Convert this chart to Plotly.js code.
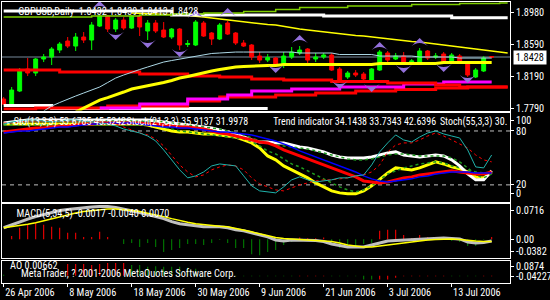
<!DOCTYPE html>
<html>
<head>
<meta charset="utf-8">
<script src="https://cdn.plot.ly/plotly-3.0.1.min.js"></script>
<style>html,body{margin:0;padding:0;background:#000;}#chart{width:550px;height:300px;}
#chart text{font-stretch:condensed !important;}</style>
</head>
<body>
<div id="chart"></div>
<script>
// ---------- DATA ----------
const symbolTitle = "GBPUSD,Daily";
const tickIdx = [0, 8, 16, 24, 32, 40, 48, 56];
const tickText = ["26 Apr 2006", "8 May 2006", "18 May 2006", "30 May 2006", "9 Jun 2006", "21 Jun 2006", "3 Jul 2006", "13 Jul 2006"];

const open = [1.7903,1.7828,1.8003,1.8278,1.8228,1.8403,1.8428,1.8515,1.8628,1.8565,
1.8678,1.8640,1.8815,1.8940,1.8778,1.8890,1.8790,1.8940,1.8753,1.8853,
1.8765,1.8678,1.8778,1.8584,1.8578,1.8853,1.8728,1.8653,1.8853,1.8728,
1.8603,1.8578,1.8440,1.8390,1.8415,1.8328,1.8428,1.8478,1.8528,1.8403,
1.8428,1.8453,1.8278,1.8178,1.8228,1.8215,1.8140,1.8265,1.8478,1.8403,
1.8440,1.8365,1.8365,1.8503,1.8428,1.8465,1.8365,1.8440,1.8353,1.8178,
1.8253,1.8432];
const high = [1.7928,1.8053,1.8290,1.8415,1.8415,1.8465,1.8553,1.8615,1.8678,1.8728,
1.8740,1.8865,1.8953,1.8953,1.8915,1.8928,1.8953,1.8953,1.8890,1.8890,
1.8865,1.8790,1.8790,1.8640,1.8890,1.8878,1.8740,1.8853,1.8878,1.8740,
1.8640,1.8590,1.8490,1.8465,1.8428,1.8490,1.8553,1.8565,1.8540,1.8478,
1.8478,1.8478,1.8303,1.8253,1.8265,1.8240,1.8290,1.8515,1.8503,1.8478,
1.8490,1.8403,1.8540,1.8515,1.8478,1.8490,1.8478,1.8465,1.8365,1.8290,
1.8440,1.8439];
const low = [1.7828,1.7815,1.7990,1.8190,1.8190,1.8365,1.8328,1.8478,1.8540,1.8503,
1.8603,1.8515,1.8803,1.8740,1.8740,1.8765,1.8778,1.8690,1.8640,1.8728,
1.8665,1.8653,1.8515,1.8553,1.8565,1.8678,1.8578,1.8640,1.8703,1.8578,
1.8553,1.8390,1.8353,1.8365,1.8303,1.8290,1.8403,1.8453,1.8353,1.8365,
1.8403,1.8253,1.8115,1.8153,1.8178,1.8115,1.8128,1.8253,1.8365,1.8390,
1.8340,1.8340,1.8353,1.8390,1.8403,1.8340,1.8353,1.8365,1.8178,1.8165,
1.8240,1.8413];
const close = [1.7840,1.8015,1.8253,1.8228,1.8403,1.8428,1.8528,1.8590,1.8565,1.8678,
1.8640,1.8828,1.8940,1.8778,1.8890,1.8790,1.8940,1.8803,1.8853,1.8753,
1.8678,1.8778,1.8578,1.8597,1.8865,1.8690,1.8653,1.8828,1.8715,1.8603,
1.8565,1.8428,1.8390,1.8422,1.8328,1.8440,1.8490,1.8515,1.8390,1.8428,
1.8453,1.8265,1.8140,1.8228,1.8203,1.8153,1.8278,1.8490,1.8390,1.8440,
1.8353,1.8378,1.8503,1.8415,1.8440,1.8365,1.8453,1.8378,1.8203,1.8265,
1.8415,1.8428];

// main-panel indicator lines (last two values of some lines extend past the last bar)
const greenTop = [1.8928,1.8928,1.8928,1.8928,1.8928,1.8928,1.8928,1.8928,1.8928,1.8928,
1.8928,1.8940,1.8940,1.8940,1.8940,1.8940,1.8940,1.8953,1.8953,1.8953,
1.8953,1.8965,1.8965,1.8965,1.8965,1.8978,1.8978,1.8978,1.8978,1.8978,
1.8997,1.8997,1.8997,1.8997,1.9022,1.9022,1.9022,1.9047,1.9047,1.9047,
1.9047,1.9047,1.9047,1.9066,1.9066,1.9066,1.9066,1.9066,1.9066,1.9066,
1.9066,1.9084,1.9084,1.9084,1.9084,1.9084,1.9084,1.9097,1.9097,1.9097,
1.9097,1.9097,1.9103,1.9103];
const whiteTop = [1.9003,1.9003,1.9003,1.9003,1.9003,1.9003,1.9003,1.9003,1.9003,1.9003,
1.9003,1.9003,1.9003,1.9003,1.9003,1.9003,1.9003,1.9003,1.9003,1.9003,
1.9003,1.8953,1.8953,1.8953,1.8953,1.8953,1.8953,1.8953,1.8953,1.8953,
1.8953,1.8953,1.8953,1.8953,1.8953,1.8953,1.8953,1.8953,1.8953,1.8953,
1.8940,1.8940,1.8940,1.8940,1.8940,1.8940,1.8940,1.8940,1.8940,1.8940,
1.8940,1.8940,1.8940,1.8940,1.8940,1.8940,1.8919,1.8919,1.8919,1.8919,
1.8919,1.8919,1.8919,1.8919];
const yellowTrend = [null,null,null,null,null,null,null,null,null,null,
null,null,null,null,null,null,1.8978,1.8975,1.8971,1.8969,
1.8965,1.8959,1.8953,1.8946,1.8940,1.8928,1.8915,1.8903,1.8890,1.8878,
1.8865,1.8853,1.8844,1.8834,1.8828,1.8809,1.8790,1.8778,1.8765,1.8753,
1.8740,1.8728,1.8715,1.8703,1.8696,1.8690,1.8678,1.8665,1.8653,1.8640,
1.8634,1.8621,1.8615,1.8603,1.8590,1.8578,1.8565,1.8553,1.8540,1.8528,
1.8515,1.8503,1.8490,1.8478];
const lightBlue = [null,null,null,null,null,1.7753,1.7815,1.7859,1.7903,1.7940,
1.7978,1.8015,1.8053,1.8109,1.8165,1.8203,1.8240,1.8271,1.8303,1.8334,
1.8365,1.8384,1.8403,1.8422,1.8440,1.8453,1.8472,1.8478,1.8487,1.8490,
1.8490,1.8490,1.8490,1.8490,1.8490,1.8490,1.8490,1.8478,1.8478,1.8478,
1.8478,1.8478,1.8459,1.8459,1.8459,1.8459,1.8459,1.8440,1.8440,1.8440,
1.8440,1.8440,1.8428,1.8428,1.8428,1.8428,1.8428,1.8415,1.8415,1.8415,
1.8415,1.8415];
const yellowMA = [null,null,null,null,null,null,null,null,null,1.7740,
1.7790,1.7840,1.7890,1.7921,1.7953,1.7990,1.8028,1.8046,1.8071,1.8090,
1.8109,1.8134,1.8165,1.8184,1.8209,1.8234,1.8253,1.8271,1.8290,1.8303,
1.8309,1.8315,1.8321,1.8321,1.8321,1.8334,1.8334,1.8334,1.8334,1.8334,
1.8334,1.8334,1.8334,1.8334,1.8334,1.8334,1.8334,1.8346,1.8346,1.8346,
1.8346,1.8346,1.8346,1.8346,1.8346,1.8359,1.8359,1.8359,1.8359,1.8359,
1.8359,1.8359];
const redUpper = [1.8265,1.8265,1.8265,1.8265,1.8265,1.8265,1.8265,1.8240,1.8240,1.8240,
1.8240,1.8240,1.8240,1.8240,1.8240,1.8240,1.8240,1.8215,1.8215,1.8215,
1.8215,1.8215,1.8215,1.8190,1.8190,1.8190,1.8190,1.8178,1.8178,1.8178,
1.8178,1.8153,1.8153,1.8153,1.8153,1.8140,1.8140,1.8140,1.8140,1.8140,
1.8140,1.8121,1.8121,1.8121,1.8121,1.8121,1.8121,1.8121,1.8103,1.8103,
1.8103,1.8103,1.8103,1.8103,1.8078,1.8078,1.8078,1.8053,1.8053,1.8053,
1.8053,1.8053,1.8053,1.8053];
const redLower = [1.7778,1.7778,1.7778,1.7778,1.7790,1.7790,1.7790,1.7790,1.7790,1.7790,
1.7790,1.7790,1.7790,1.7815,1.7815,1.7815,1.7815,1.7815,1.7815,1.7815,
1.7815,1.7815,1.7815,1.7878,1.7878,1.7878,1.7878,1.7928,1.7928,1.7928,
1.7928,1.7928,1.7928,1.7928,1.7953,1.7953,1.7953,1.7953,1.7953,1.7978,
1.7978,1.7978,1.7978,1.7978,1.8003,1.8003,1.8003,1.8003,1.8003,1.8021,
1.8021,1.8021,1.8021,1.8021,1.8040,1.8040,1.8040,1.8040,1.8053,1.8053,
1.8053,1.8053,1.8053,1.8053];
const magenta = [null,null,null,null,null,null,null,null,null,null,
null,null,1.7790,1.7790,1.7790,1.7790,1.7790,1.7840,1.7840,1.7840,
1.7840,1.7840,1.7840,1.7903,1.7903,1.7903,1.7903,1.7903,1.7953,1.7953,
1.7953,1.8003,1.8003,1.8003,1.8003,1.8003,1.8028,1.8028,1.8028,1.8028,
1.8028,1.8028,1.8053,1.8053,1.8053,1.8053,1.8053,1.8053,1.8053,1.8053,
1.8090,1.8090,1.8090,1.8090,1.8090,1.8115,1.8115,1.8115,1.8115,1.8115,
1.8115,1.8115];
const whiteBottom = [1.7822,1.7822,1.7822,1.7822,1.7822,1.7822,1.7784,1.7784,1.7784,1.7784,
1.7784,1.7784,1.7784,1.7784,1.7784,1.7784,1.7784,1.7784,1.7784,1.7784,
1.7784,1.7784,1.7784,1.7784,1.7784,1.7784,1.7784,1.7784,1.7784,1.7784,
1.7784,1.7784,1.7784,1.7784,null,null,null,null,null,null,
null,null,null,null,null,null,null,null,null,null,
null,null,null,null,null,null,null,null,null,null,
null,null];

// fractal arrows
const upFractIdx = [12, 24, 28, 37, 47, 52];
const upFractPrice = [1.9128, 1.9015, 1.9040, 1.8703, 1.8615, 1.8665];
const downFractIdx = [14, 18, 22, 34, 42, 46, 50, 55, 58];
const downFractPrice = [1.8640, 1.8540, 1.8428, 1.8228, 1.8028, 1.7990, 1.8228, 1.8240, 1.8103];

// stochastic panel
const stoch13Main = [87.8,90.0,91.1,92.2,92.2,91.1,90.0,91.1,92.2,92.2,
91.1,90.0,88.9,87.8,85.6,82.2,80.0,77.8,74.4,68.9,
58.9,47.8,36.7,27.8,30.0,34.4,41.1,43.3,42.2,41.1,
30.0,18.9,13.3,12.2,11.1,17.8,25.6,28.9,25.6,23.3,
24.4,25.6,27.8,27.8,30.0,31.1,42.2,56.7,66.7,75.6,
70.0,67.8,73.3,77.8,80.0,76.7,74.4,72.2,58.9,40.0,
38.9,53.3];
const stoch13Signal = [88.9,88.9,90.0,91.1,91.1,91.1,91.1,91.1,91.1,91.1,
91.1,91.1,90.0,88.9,87.8,84.4,81.1,77.8,75.6,71.1,
63.3,52.2,42.2,34.4,28.9,31.1,36.7,40.0,42.2,41.1,
36.7,27.8,21.1,17.8,14.4,13.3,16.7,20.0,22.2,24.4,
25.6,25.6,26.7,27.8,30.0,31.1,34.4,42.2,56.7,64.4,
66.7,66.7,70.0,74.4,77.8,74.4,70.0,65.6,61.1,53.3,
47.8,45.6];
const stoch21Main = [88.9,90.0,91.1,92.2,92.2,92.2,92.2,92.2,92.2,92.2,
92.2,92.2,92.2,92.2,92.2,92.2,92.2,92.2,92.2,91.1,
90.0,88.9,87.8,86.7,85.6,84.4,83.3,81.1,78.9,76.7,
73.3,70.0,67.8,67.8,66.7,66.7,64.4,62.2,61.1,58.9,
56.7,53.3,51.1,50.0,50.0,50.0,51.1,53.3,55.6,56.7,
53.3,52.2,51.1,52.2,53.3,52.2,47.8,41.1,32.2,25.6,
25.6,35.6];
const stoch21Signal = [87.8,88.9,90.0,91.1,91.1,91.1,91.1,91.1,91.1,91.1,
91.1,91.1,91.1,91.1,91.1,91.1,91.1,91.1,91.1,91.1,
90.0,88.9,87.8,86.7,85.6,84.4,83.3,82.2,80.0,77.8,
75.6,72.2,68.9,66.7,64.4,63.3,62.2,61.1,60.0,57.8,
55.6,53.3,51.1,48.9,47.8,47.8,48.9,51.1,53.3,54.4,
54.4,53.3,52.2,52.2,52.2,52.2,50.0,45.6,38.9,31.1,
27.8,32.2];
const trendRed = [78.9,80.0,81.1,82.2,83.3,83.3,84.4,85.6,85.6,86.7,
87.8,87.8,88.9,88.9,88.9,88.9,88.9,88.9,87.8,87.8,
86.7,85.6,84.4,84.4,83.3,82.2,80.0,77.8,76.7,74.4,
72.2,70.0,67.8,66.7,63.3,58.9,55.6,52.2,48.9,45.6,
42.2,38.9,35.6,32.2,28.9,24.4,23.3,22.2,23.3,25.6,
27.8,28.9,31.1,32.2,33.3,34.4,35.6,34.4,33.3,32.2,
32.2,34.4];
const trendBlue = [77.8,78.9,80.0,80.0,81.1,82.2,83.3,84.4,84.4,85.6,
86.7,87.8,87.8,88.9,88.9,88.9,88.9,87.8,86.7,85.6,
84.4,84.4,83.3,83.3,82.2,81.1,80.0,78.9,78.9,77.8,
76.7,75.6,73.3,71.1,68.9,65.6,62.2,57.8,54.4,51.1,
47.8,44.4,41.1,37.8,34.4,30.0,26.7,24.4,23.3,24.4,
25.6,26.7,28.9,30.0,32.2,33.3,34.4,34.4,34.4,33.3,
33.3,33.3];
const stoch55Main = [87.8,87.8,87.8,87.8,87.8,87.8,87.8,87.8,87.8,87.8,
87.8,87.8,87.8,87.8,87.8,87.8,87.8,87.8,86.7,84.4,
82.2,80.0,78.9,78.9,77.8,76.7,76.7,75.6,74.4,73.3,
70.0,66.7,61.1,52.2,47.8,41.1,36.7,32.2,27.8,22.2,
17.8,13.3,11.1,10.0,10.0,13.3,18.9,25.6,33.3,38.9,
37.8,36.7,38.9,42.2,45.6,43.3,40.0,37.8,34.4,28.9,
27.8,34.4];
const stoch55Signal = [86.7,86.7,86.7,86.7,86.7,86.7,86.7,86.7,86.7,86.7,
86.7,86.7,86.7,86.7,86.7,86.7,86.7,86.7,86.7,86.7,
84.4,82.2,80.0,78.9,77.8,76.7,75.6,74.4,73.3,72.2,
71.1,67.8,63.3,57.8,54.4,48.9,43.3,40.0,35.6,31.1,
26.7,22.2,17.8,14.4,12.2,14.4,18.9,25.6,32.2,35.6,
38.9,41.1,43.3,44.4,45.6,44.4,41.1,38.9,36.7,34.4,
33.3,32.2];
const stochLevels = [80, 20];

// MACD panel
const macdHist = [0,0.0067,0.0230,0.0291,0.0331,0.0291,0.0250,0.0230,0.0128,0.0128,
0.0047,0.0047,0.0148,0.0047,0,-0.0096,-0.0075,-0.0157,-0.0075,-0.0157,
-0.0258,-0.0218,-0.0177,-0.0096,-0.0096,-0.0116,-0.0075,-0.0014,-0.0075,-0.0177,
-0.0177,-0.0299,-0.0319,-0.0258,-0.0218,-0.0116,-0.0055,0.0033,0.0020,0.0020,
0.0037,-0.0075,-0.0177,-0.0157,-0.0157,-0.0096,-0.0075,0.0169,0.0189,0.0189,
0.0087,0.0026,0.0087,0.0047,0.0047,0.0020,-0.0035,-0.0055,-0.0136,-0.0136,
-0.0010,0.0047];
const macdMain = [0.0230,0.0291,0.0352,0.0403,0.0453,0.0494,0.0535,0.0575,0.0596,0.0616,
0.0636,0.0646,0.0657,0.0657,0.0636,0.0606,0.0575,0.0535,0.0494,0.0453,
0.0413,0.0352,0.0311,0.0291,0.0270,0.0250,0.0250,0.0250,0.0230,0.0189,
0.0169,0.0128,0.0087,0.0047,-0.0014,-0.0035,-0.0014,-0.0014,-0.0014,-0.0024,
-0.0045,-0.0096,-0.0126,-0.0157,-0.0157,-0.0157,-0.0116,-0.0075,-0.0035,-0.0024,
-0.0014,-0.0004,0.0006,0.0016,0.0026,0.0026,0.0016,0.0006,-0.0055,-0.0075,
-0.0065,-0.0035];
const macdSignal = [0.0230,0.0250,0.0270,0.0301,0.0331,0.0372,0.0413,0.0453,0.0494,0.0525,
0.0555,0.0575,0.0596,0.0606,0.0606,0.0596,0.0575,0.0555,0.0525,0.0494,
0.0453,0.0413,0.0372,0.0342,0.0311,0.0291,0.0270,0.0260,0.0250,0.0220,
0.0189,0.0148,0.0108,0.0067,0.0037,0.0016,0.0006,-0.0004,-0.0010,-0.0014,
-0.0024,-0.0045,-0.0075,-0.0116,-0.0136,-0.0157,-0.0157,-0.0136,-0.0116,-0.0085,
-0.0065,-0.0045,-0.0024,-0.0014,-0.0004,0.0006,0.0006,-0.0004,-0.0024,-0.0035,
-0.0045,-0.0045];

// AO panel
const aoGreen = [0.006,null,null,null,null,null,null,null,null,null,
null,null,null,null,null,null,0.063,0.063,0.052,0.055,
0.052,0.052,0.052,0.046,0.040,-0.003,-0.003,-0.003,-0.003,-0.003,
-0.003,-0.003,-0.003,-0.003,-0.003,-0.003,-0.003,null,null,null,
null,-0.003,-0.003,-0.003,-0.003,-0.022,-0.022,null,null,null,
null,null,null,null,null,null,-0.003,-0.003,-0.003,-0.003,
null,null];
const aoRed = [null,null,null,null,null,null,null,null,0.068,0.068,
0.068,0.063,0.068,0.074,0.074,0.074,null,null,null,null,
null,null,null,null,null,null,null,null,null,null,
null,null,null,null,null,null,null,-0.003,-0.003,-0.003,
-0.003,null,null,null,null,null,null,-0.022,-0.022,-0.012,
-0.003,-0.003,-0.003,-0.003,-0.003,-0.003,null,null,null,null,
-0.003,-0.003];

// header texts
const stochHeaderParts = ["Sto(13,3,3) 53.6785 45.5242", "Stoch(21,3,3) 35.9137 31.9978",
  "Trend indicator 34.1438 33.7343 42.6396", "Stoch(55,3,3) 30."];
const macdHeader = "MACD(5,34,5) -0.0017 -0.0040 0.0070";
const aoHeader = "AO 0.00662";
const copyright = "MetaTrader, ? 2001-2006 MetaQuotes Software Corp.";

// axis ranges / right-hand labels
const priceRange = [1.77593, 1.91155];
const priceTicks = [1.8980, 1.8590, 1.8190, 1.7790];
const stochRange = [1.5, 100];
const stochLabels = ["100", "80", "20", "0"];
const macdRange = [-0.0382, 0.0716];
const macdLabels = ["0.0716", "0.00", "-0.0382"];
const aoRange = [-0.04227, 0.0874];
const aoLabels = ["0.0874", "-0.04227"];

// ---------- BUILD ----------
const FONT = "Roboto, DejaVu Sans, sans-serif";
const FS = 10.3;
const idxOf = a => a.map((_, i) => i);
const last = close[close.length - 1];

function line(y, color, width, ax, extra) {
  return Object.assign({type: 'scatter', mode: 'lines', x: idxOf(y), y: y,
    line: {color: color, width: width}, xaxis: ax[0], yaxis: ax[1],
    hoverinfo: 'skip', connectgaps: false}, extra || {});
}
const A1 = ['x', 'y'], A2 = ['x2', 'y2'], A3 = ['x3', 'y3'];

const traces = [
  {type: 'candlestick', x: idxOf(open), open: open, high: high, low: low, close: close,
   xaxis: 'x', yaxis: 'y', whiskerwidth: 0, hoverinfo: 'skip',
   increasing: {line: {color: '#00ff00', width: 1}, fillcolor: '#00ff00'},
   decreasing: {line: {color: '#ff0000', width: 1}, fillcolor: '#ff0000'}},
  line(whiteBottom, '#ffffff', 3, A1, {line: {color: '#ffffff', width: 3, shape: 'hv'}}),
  line(redLower, '#ff0000', 3, A1, {line: {color: '#ff0000', width: 3, shape: 'hv'}}),
  line(magenta, '#ff00ff', 3, A1, {line: {color: '#ff00ff', width: 3, shape: 'hv'}}),
  line(redUpper, '#ff0000', 3, A1, {line: {color: '#ff0000', width: 3, shape: 'hv'}}),
  line(yellowMA, '#ffff00', 3, A1),
  line(lightBlue, '#add8e6', 1, A1),
  line(yellowTrend, '#ffff00', 1.5, A1),
  line(whiteTop, '#ffffff', 3, A1, {line: {color: '#ffffff', width: 3, shape: 'hv'}}),
  line(greenTop, '#7fcf00', 1.5, A1, {line: {color: '#7fcf00', width: 1.5, shape: 'hv'}}),
  {type: 'scatter', mode: 'markers', x: upFractIdx, y: upFractPrice, xaxis: 'x', yaxis: 'y',
   marker: {symbol: 'arrow-wide', size: 12, color: '#9370db', angle: 0}, hoverinfo: 'skip'},
  {type: 'scatter', mode: 'markers', x: downFractIdx, y: downFractPrice, xaxis: 'x', yaxis: 'y',
   marker: {symbol: 'arrow-wide', size: 12, color: '#9370db', angle: 180}, hoverinfo: 'skip'},

  line(stoch55Main, '#ffff00', 3, A2),
  line(stoch55Signal, '#1f9a1f', 1.5, A2, {line: {color: '#1f9a1f', width: 1.5, dash: '3px,3px'}}),
  line(stoch21Main, '#ffffff', 3, A2),
  line(stoch21Signal, '#1f9a1f', 1.5, A2, {line: {color: '#1f9a1f', width: 1.5, dash: '3px,3px'}}),
  line(trendRed, '#ff0000', 3, A2),
  line(trendBlue, '#0000ff', 1.5, A2),
  line(stoch13Signal, '#ff0000', 1, A2, {line: {color: '#ff0000', width: 1, dash: '3px,3px'}}),
  line(stoch13Main, '#20b2aa', 1, A2),

  {type: 'bar', x: idxOf(macdHist), y: macdHist, xaxis: 'x3', yaxis: 'y3', width: 0.13,
   marker: {color: macdHist.map(v => v >= 0 ? '#ff0000' : '#008000'), line: {width: 0}}, hoverinfo: 'skip'},
  line(macdMain, '#c0c0c0', 3, A3),
  line(macdSignal, '#ffff00', 1.5, A3),

  {type: 'bar', x: idxOf(aoGreen), y: aoGreen, xaxis: 'x4', yaxis: 'y4', width: 0.13,
   marker: {color: '#008000', line: {width: 0}}, hoverinfo: 'skip'},
  {type: 'bar', x: idxOf(aoRed), y: aoRed, xaxis: 'x4', yaxis: 'y4', width: 0.13,
   marker: {color: '#ff0000', line: {width: 0}}, hoverinfo: 'skip'}
];

// geometry (pixels) of the four panes
const H = 300, mT = 2, mB = 17, plotH = H - mT - mB;
const pane = (top, bottom) => [(H - mB - bottom) / plotH, (H - mB - top) / plotH];
const d1 = pane(2, 110.5), d2 = pane(113, 201.5), d3 = pane(203.5, 258.3), d4 = pane(260.7, 283);
const inset = (r, px, hpx, fromTop) => fromTop ? r[1] - (r[1] - r[0]) * px / hpx : r[0] + (r[1] - r[0]) * px / hpx;
const headerPx = [7, 119, 263, 436];   // left pixel of each stochastic header block

const xRange = [-0.21, 63.29];
const xBase = {range: xRange, showline: true, mirror: true, linecolor: '#ffffff', linewidth: 1,
  showgrid: false, zeroline: false, showticklabels: false, ticks: '', fixedrange: true};
const yBase = {side: 'right', showline: true, mirror: true, linecolor: '#ffffff', linewidth: 1,
  showgrid: false, zeroline: false, ticks: 'outside', ticklen: 3, tickcolor: '#ffffff',
  tickfont: {family: FONT, size: FS, color: '#ffffff'}, tickmode: 'array', fixedrange: true};
const txt = (extra) => Object.assign({showarrow: false, xanchor: 'left',
  font: {family: FONT, size: FS, color: '#ffffff'}}, extra);

const layout = {
  width: 550, height: 300,
  margin: {l: 2, r: 40, t: mT, b: mB, pad: 0},
  paper_bgcolor: '#000000', plot_bgcolor: '#000000',
  showlegend: false, hovermode: false, barmode: 'overlay',
  font: {family: FONT, size: FS, color: '#ffffff'},
  xaxis: Object.assign({}, xBase, {anchor: 'y', rangeslider: {visible: false}}),
  xaxis2: Object.assign({}, xBase, {anchor: 'y2'}),
  xaxis3: Object.assign({}, xBase, {anchor: 'y3'}),
  xaxis4: Object.assign({}, xBase, {anchor: 'y4', ticks: 'outside', ticklen: 3, tickcolor: '#ffffff',
    tickmode: 'array', tickvals: tickIdx}),
  yaxis: Object.assign({}, yBase, {domain: d1, range: priceRange, tickvals: priceTicks,
    ticktext: priceTicks.map(v => v.toFixed(4))}),
  yaxis2: Object.assign({}, yBase, {domain: d2, range: stochRange,
    tickvals: [inset(stochRange, 7, 88.5, true), stochLevels[0], stochLevels[1], inset(stochRange, 8.5, 88.5, false)],
    ticktext: stochLabels}),
  yaxis3: Object.assign({}, yBase, {domain: d3, range: macdRange,
    tickvals: [inset(macdRange, 7, 54.8, true), 0, inset(macdRange, 7, 54.8, false)], ticktext: macdLabels}),
  yaxis4: Object.assign({}, yBase, {domain: d4, range: aoRange,
    tickvals: [inset(aoRange, 6, 22.3, true), inset(aoRange, 7, 22.3, false)], ticktext: aoLabels}),
  shapes: [
    {type: 'line', xref: 'x domain', yref: 'y', x0: 0, x1: 1, y0: last, y1: last,
     line: {color: '#778899', width: 1}, layer: 'below'}
  ].concat(stochLevels.map(v => ({type: 'line', xref: 'x2 domain', yref: 'y2', x0: 0, x1: 1, y0: v, y1: v,
     line: {color: '#c0c0c0', width: 1, dash: '4px,4px'}, layer: 'below'}))),
  annotations: [
    txt({xref: 'paper', yref: 'y domain', x: 0, y: 1, yanchor: 'top', xshift: 3, yshift: -1,
     text: symbolTitle + '  ' + [open, high, low, close].map(a => a[a.length - 1].toFixed(4)).join(' ')}),
    txt({xref: 'paper', yref: 'y3 domain', x: 0, y: 1, yanchor: 'top', xshift: 3, yshift: -1, text: macdHeader}),
    txt({xref: 'paper', yref: 'y4 domain', x: 0, y: 1, yanchor: 'top', xshift: 3, yshift: 4, text: aoHeader}),
    txt({xref: 'paper', yref: 'y4 domain', x: 0, y: 0, yanchor: 'bottom', xshift: 3, yshift: 1, text: copyright}),
    {xref: 'paper', yref: 'y', x: 1, y: last, xanchor: 'left', yanchor: 'middle', xshift: 3,
     text: last.toFixed(4), showarrow: false, bgcolor: '#ffffff', borderpad: 0,
     font: {family: FONT, size: FS, color: '#000000'}}
  ].concat(stochHeaderParts.map((t, i) => txt({xref: 'paper', yref: 'y2 domain', x: 0, y: 1, yanchor: 'top',
     xshift: headerPx[i] - 4, yshift: -1, text: t, font: {family: FONT, size: 10, color: '#ffffff'}})))
   .concat(tickIdx.map((t, i) => txt({xref: 'x4', yref: 'paper', x: t, y: 0, yanchor: 'top',
     xshift: -4, yshift: -1, text: tickText[i]})))
};

Plotly.newPlot('chart', traces, layout, {staticPlot: true, displayModeBar: false});
</script>
</body>
</html>
